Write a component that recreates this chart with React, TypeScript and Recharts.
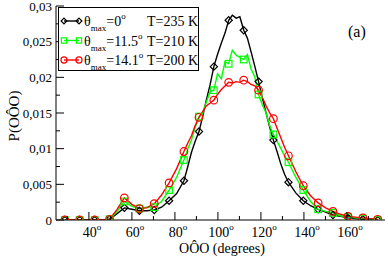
import { LineChart, Line, XAxis, YAxis } from 'recharts';

const angles = [
  28.8, 32.3, 35.7, 39.2, 42.7, 46.1, 49.6, 53.1, 56.5, 60.0, 63.5, 66.9, 70.4, 73.8, 77.3, 80.8, 84.2,
  86.0, 87.7, 89.4, 91.2, 92.9, 94.6, 96.4, 98.1, 99.8, 101.6, 103.3, 105.0, 106.7, 108.5, 110.2,
  112.0, 113.7, 115.4, 117.2, 118.9, 120.6, 122.4, 124.1, 125.8, 127.6, 129.3, 131.0, 132.8,
  136.2, 139.7, 143.1, 146.6, 150.1, 153.5, 157.0, 160.5, 163.9, 167.4, 170.9, 174.3,
];

// theta_max = 0, T = 235 K
const pTheta0 = [
  0, 0, 0, 0, 0, 0, 0.0001, 0.0009, 0.0017, 0.0015, 0.0013, 0.0013, 0.0014, 0.0018, 0.0027, 0.0037, 0.0055,
  0.0075, 0.0095, 0.011, 0.0124, 0.0145, 0.0168, 0.019, 0.0215, 0.0232, 0.0248, 0.0262, 0.028, 0.0287, 0.0283, 0.0285,
  0.0266, 0.0255, 0.0236, 0.0215, 0.0194, 0.0172, 0.015, 0.013, 0.0112, 0.0095, 0.0078, 0.0064, 0.0053,
  0.0038, 0.0027, 0.002, 0.0015, 0.0011, 0.0007, 0.0005, 0.0003, 0.0002, 0.0001, 0.0001, 0,
];

// theta_max = 11.5, T = 210 K
const pTheta115 = [
  0, 0, 0, 0, 0, 0, 0.0001, 0.0012, 0.0026, 0.0019, 0.0016, 0.0018, 0.0018, 0.0026, 0.0042, 0.006, 0.0084,
  0.01, 0.0112, 0.013, 0.0145, 0.015, 0.0165, 0.018, 0.0182, 0.0205, 0.0198, 0.0222, 0.0219, 0.0238, 0.0231, 0.0228,
  0.0225, 0.0232, 0.0212, 0.02, 0.0176, 0.0162, 0.015, 0.0132, 0.012, 0.011, 0.01, 0.009, 0.0081,
  0.006, 0.0042, 0.0026, 0.0015, 0.0012, 0.001, 0.0006, 0.0004, 0.0003, 0.0002, 0.0001, 0,
];

// theta_max = 14.1, T = 200 K
const pTheta141 = [
  0, 0, 0, 0, 0, 0, 0.0001, 0.0015, 0.0031, 0.0022, 0.0016, 0.0017, 0.0023, 0.0035, 0.0052, 0.0072, 0.0096,
  0.0108, 0.0118, 0.0132, 0.0144, 0.0152, 0.016, 0.0164, 0.0168, 0.0176, 0.0183, 0.0188, 0.0193, 0.0192, 0.0194, 0.0193,
  0.0196, 0.0194, 0.019, 0.0188, 0.0182, 0.0172, 0.016, 0.015, 0.0142, 0.0128, 0.0115, 0.0102, 0.009,
  0.0068, 0.0048, 0.0034, 0.0024, 0.0017, 0.0012, 0.0008, 0.0005, 0.0004, 0.0003, 0.0002, 0.0001,
];

const markerAngles = [
  28.8, 35.7, 42.7, 49.6, 56.5, 63.5, 70.4, 77.3, 84.2, 91.2, 98.1, 105.0, 112.0,
  118.9, 125.8, 132.8, 139.7, 146.6, 153.5, 160.5, 167.4, 174.3,
];

const xTicks = [30, 40, 50, 60, 70, 80, 90, 100, 110, 120, 130, 140, 150, 160, 170];
const yTicks = [0, 0.0025, 0.005, 0.0075, 0.01, 0.0125, 0.015, 0.0175, 0.02, 0.0225, 0.025, 0.0275, 0.03];
const yMajor = [0, 0.005, 0.01, 0.015, 0.02, 0.025, 0.03];

const series = [
  { key: 't0', name: '0', temp: 'T=235 K', color: '#000000', shape: 'diamond' },
  { key: 't115', name: '11.5', temp: 'T=210 K', color: '#00ff00', shape: 'square' },
  { key: 't141', name: '14.1', temp: 'T=200 K', color: '#ff0000', shape: 'circle' },
];

const rows = angles.map((a, i) => ({
  angle: a,
  t0: pTheta0[i],
  t115: pTheta115[i],
  t141: pTheta141[i],
}));

const FONT = '"Liberation Serif", "DejaVu Serif", serif';
const LEFT = 56;
const RIGHT = 385;
const TOP = 6;
const BOTTOM = 220;

function Marker({ cx, cy, shape, color, size = 1 }: any) {
  if (shape === 'diamond') {
    const d = 3.6 * size;
    return <path d={`M${cx},${cy - d}L${cx + d},${cy}L${cx},${cy + d}L${cx - d},${cy}Z`} fill="none" stroke={color} strokeWidth={1.2} />;
  }
  if (shape === 'square') {
    const h = 3.3 * size;
    return <rect x={cx - h} y={cy - h} width={2 * h} height={2 * h} fill="none" stroke={color} strokeWidth={1.2} />;
  }
  return <circle cx={cx} cy={cy} r={3.8 * size} fill="none" stroke={color} strokeWidth={1.2} />;
}

function makeDot(shape: string, color: string) {
  return (props: any) => {
    const { cx, cy, payload, index } = props;
    if (!markerAngles.includes(payload.angle)) return <g key={`n${index}`} />;
    return <Marker key={`m${index}`} cx={cx} cy={cy} shape={shape} color={color} />;
  };
}

function BottomTick({ x, payload }: any) {
  const major = payload.value % 20 === 0;
  return (
    <g>
      <line x1={x} x2={x} y1={BOTTOM} y2={BOTTOM - (major ? 8 : 4)} stroke="#000" />
      {major && (
        <text x={x + 3} y={237} textAnchor="middle" fontSize={14} fontFamily={FONT} fill="#000">
          {payload.value}
          <tspan fontSize={9} dy={-7}>o</tspan>
        </text>
      )}
    </g>
  );
}

function TopTick({ x, payload }: any) {
  const major = payload.value % 20 === 0;
  return <line x1={x} x2={x} y1={TOP} y2={TOP + (major ? 8 : 4)} stroke="#000" />;
}

function LeftTick({ y, payload }: any) {
  const major = yMajor.includes(payload.value);
  return (
    <g>
      <line x1={LEFT} x2={LEFT + (major ? 8 : 4)} y1={y} y2={y} stroke="#000" />
      {major && (
        <text x={LEFT - 4} y={y + 4.5} textAnchor="end" fontSize={13} fontFamily={FONT} fill="#000">
          {String(payload.value).replace('.', ',')}
        </text>
      )}
    </g>
  );
}

function RightTick({ y, payload }: any) {
  const major = yMajor.includes(payload.value);
  return <line x1={RIGHT} x2={RIGHT - (major ? 8 : 4)} y1={y} y2={y} stroke="#000" />;
}

function Overlay() {
  return (
    <svg width={388} height={257} style={{ position: 'absolute', left: 0, top: 0, pointerEvents: 'none' }}>
      <rect x={58.5} y={7.5} width={140} height={63} fill="#fff" stroke="#000" />
      {series.map((s, i) => {
        const cy = 21 + i * 19.5;
        return (
          <g key={s.key}>
            <line x1={64} x2={79} y1={cy} y2={cy} stroke={s.color} strokeWidth={1.4} />
            <Marker cx={64} cy={cy} shape={s.shape} color={s.color} size={0.8} />
            <Marker cx={79} cy={cy} shape={s.shape} color={s.color} size={0.8} />
            <text x={84} y={cy + 5} fontSize={14} fontFamily={FONT} fill="#000">
              θ
              <tspan fontSize={9} dy={5}>max</tspan>
              <tspan dy={-5}>={s.name}</tspan>
              <tspan fontSize={9} dy={-7}>o</tspan>
            </text>
            <text x={147} y={cy + 5} fontSize={14} fontFamily={FONT} fill="#000">{s.temp}</text>
          </g>
        );
      })}
      <text x={348} y={37} fontSize={16} fontFamily={FONT} fill="#000">(a)</text>
      <text x={222} y={253} textAnchor="middle" fontSize={14} fontFamily={FONT} fill="#000">OÔO (degrees)</text>
      <text x={19} y={116} transform="rotate(-90 19 116)" textAnchor="middle" fontSize={15} fontFamily={FONT} fill="#000">P(OÔO)</text>
    </svg>
  );
}

export default function App() {
  return (
    <div style={{ position: 'absolute', left: 0, top: 0, width: 388, height: 257, background: '#fff' }}>
      <LineChart width={388} height={257} data={rows} margin={{ top: TOP, right: 388 - RIGHT, bottom: 0, left: 0 }}>
        <XAxis dataKey="angle" type="number" domain={[24.7, 177.7]} ticks={xTicks} tick={<BottomTick />}
          tickLine={false} tickSize={0} height={257 - BOTTOM} stroke="#000" allowDataOverflow interval={0} />
        <XAxis xAxisId="top" orientation="top" type="number" domain={[24.7, 177.7]} ticks={xTicks} tick={<TopTick />}
          tickLine={false} tickSize={0} height={0} stroke="#000" allowDataOverflow interval={0} />
        <YAxis type="number" domain={[0, 0.03]} ticks={yTicks} tick={<LeftTick />} tickLine={false} tickSize={0}
          width={LEFT} stroke="#000" allowDataOverflow interval={0} />
        <YAxis yAxisId="right" orientation="right" type="number" domain={[0, 0.03]} ticks={yTicks} tick={<RightTick />}
          tickLine={false} tickSize={0} width={0} stroke="#000" allowDataOverflow interval={0} />
        {series.map((s) => (
          <Line key={s.key} dataKey={s.key} stroke={s.color} strokeWidth={1.4} type="linear"
            dot={makeDot(s.shape, s.color)} activeDot={false} isAnimationActive={false} />
        ))}
      </LineChart>
      <Overlay />
    </div>
  );
}
